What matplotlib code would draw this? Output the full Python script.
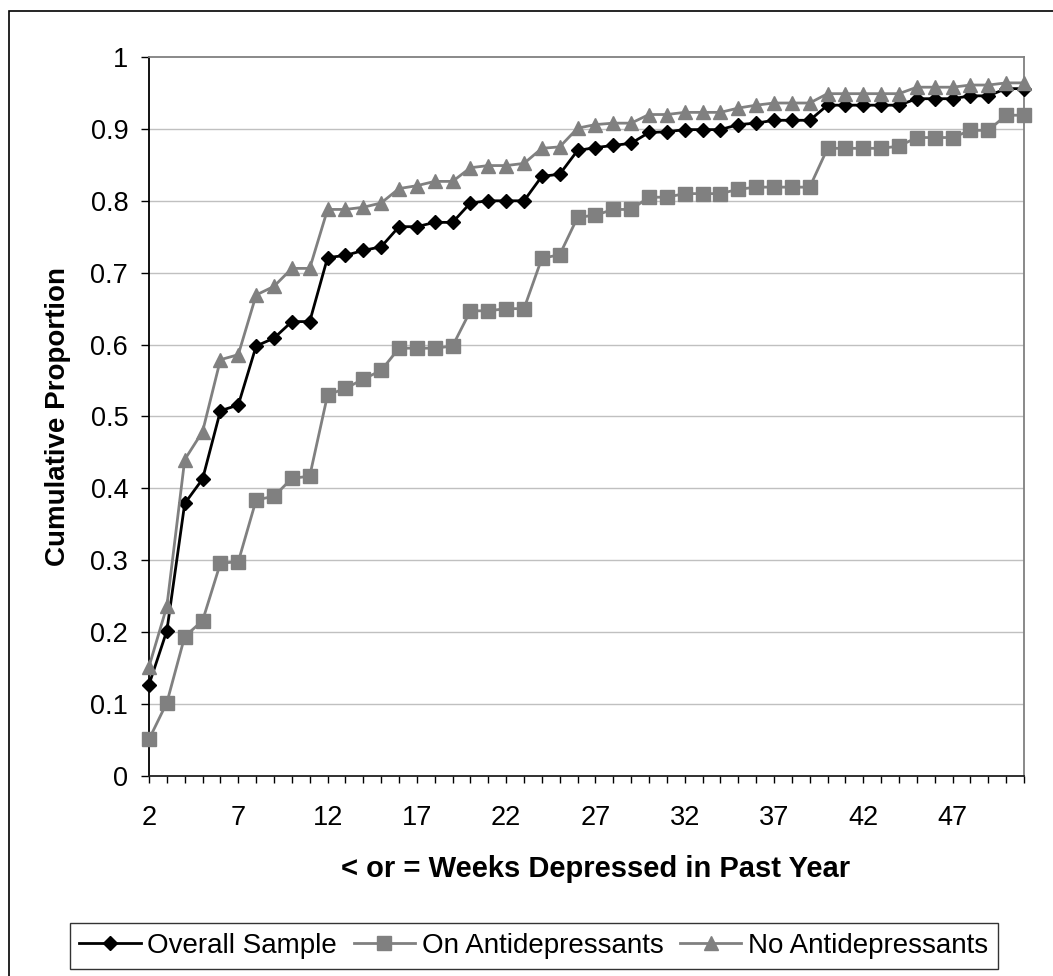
import matplotlib
matplotlib.use('Agg')
import matplotlib.pyplot as plt
from matplotlib.patches import Rectangle

plt.rcParams['font.family'] = ['Liberation Sans', 'DejaVu Sans']

# weeks depressed (category axis)
weeks = [2, 3, 4, 5, 6, 7, 8, 9, 10, 11, 12, 13, 14, 15, 16, 17, 18, 19, 20, 21,
         22, 23, 24, 25, 26, 27, 28, 29, 30, 31, 32, 33, 34, 35, 36, 37, 38, 39, 40, 41,
         42, 43, 44, 45, 46, 47, 48, 49, 50, 51]

overall = [0.127, 0.202, 0.379, 0.413, 0.508, 0.516, 0.598, 0.609, 0.632, 0.632,
           0.721, 0.724, 0.731, 0.736, 0.764, 0.764, 0.770, 0.770, 0.797, 0.800,
           0.800, 0.800, 0.834, 0.837, 0.870, 0.874, 0.877, 0.880, 0.895, 0.896,
           0.899, 0.899, 0.899, 0.906, 0.908, 0.912, 0.912, 0.912, 0.933, 0.933,
           0.933, 0.933, 0.933, 0.942, 0.942, 0.942, 0.946, 0.946, 0.956, 0.956]

on_ad = [0.051, 0.102, 0.194, 0.216, 0.296, 0.298, 0.384, 0.389, 0.414, 0.417,
         0.530, 0.539, 0.552, 0.564, 0.595, 0.595, 0.595, 0.598, 0.647, 0.647,
         0.650, 0.650, 0.720, 0.725, 0.777, 0.780, 0.788, 0.788, 0.805, 0.805,
         0.810, 0.810, 0.810, 0.816, 0.819, 0.819, 0.819, 0.819, 0.873, 0.873,
         0.873, 0.873, 0.876, 0.888, 0.888, 0.888, 0.898, 0.898, 0.919, 0.919]

no_ad = [0.152, 0.236, 0.440, 0.479, 0.579, 0.586, 0.669, 0.681, 0.706, 0.706,
         0.788, 0.788, 0.791, 0.797, 0.817, 0.821, 0.827, 0.827, 0.846, 0.849,
         0.849, 0.852, 0.873, 0.875, 0.901, 0.906, 0.908, 0.908, 0.920, 0.920,
         0.923, 0.923, 0.923, 0.929, 0.933, 0.936, 0.936, 0.936, 0.949, 0.949,
         0.949, 0.949, 0.949, 0.958, 0.958, 0.958, 0.961, 0.961, 0.964, 0.964]

labels = ['Overall Sample', 'On Antidepressants', 'No Antidepressants']
tick_weeks = [2, 7, 12, 17, 22, 27, 32, 37, 42, 47]
y_ticks = [0, 0.1, 0.2, 0.3, 0.4, 0.5, 0.6, 0.7, 0.8, 0.9, 1]

W, H = 1053, 976
fig = plt.figure(figsize=(W / 100, H / 100), dpi=100)
ax = fig.add_axes([149 / W, 1 - 776 / H, 875 / W, 719 / H])

# outer chart border, its right and bottom edges fall outside the picture
fig.patches.append(Rectangle((9 / W, -0.2), 1.2, 1.2 - 11 / H, transform=fig.transFigure,
                             fill=False, edgecolor='black', linewidth=1.2))

grey = '#808080'
ax.plot(weeks, overall, color='black', lw=2, marker='D', ms=7.6, mfc='black', mec='black',
        clip_on=False, zorder=3, label=labels[0])
ax.plot(weeks, on_ad, color=grey, lw=2, marker='s', ms=9.4, mfc=grey, mec=grey,
        clip_on=False, zorder=4, label=labels[1])
ax.plot(weeks, no_ad, color=grey, lw=2, marker='^', ms=10.5, mfc=grey, mec=grey,
        clip_on=False, zorder=5, label=labels[2])

ax.set_xlim(2, 51)
ax.set_ylim(0, 1)

ax.set_yticks(y_ticks)
ax.set_yticklabels(['0' if v == 0 else ('1' if v == 1 else '%g' % v) for v in y_ticks])
ax.set_xticks(weeks)
ax.set_xticklabels([str(w) if w in tick_weeks else '' for w in weeks])

ax.tick_params(axis='y', direction='out', length=6, width=1, labelsize=19.5, pad=9, colors='black')
ax.tick_params(axis='x', direction='out', length=5, width=1, labelsize=19.5, pad=16, colors='black')

for v in y_ticks[1:-1]:
    ax.axhline(v, color='#c0c0c0', lw=1, zorder=1)

ax.spines['left'].set_color('black')
ax.spines['bottom'].set_color('#202020')
ax.spines['top'].set_color(grey)
ax.spines['right'].set_color(grey)
for s in ax.spines.values():
    s.set_linewidth(1.3)

ax.set_xlabel('< or = Weeks Depressed in Past Year', fontsize=21, fontweight='bold')
ax.xaxis.set_label_coords(0.51, -0.13)
ax.xaxis.label.set_va('center')
ax.set_ylabel('Cumulative Proportion', fontsize=20, fontweight='bold')
ax.yaxis.set_label_coords(-0.104, 0.5)
ax.yaxis.label.set_va('center')

leg = fig.legend(loc='center', bbox_to_anchor=(534 / W, 1 - 946 / H), ncol=3, fontsize=20,
                 frameon=True, fancybox=False, edgecolor='black', handlelength=2.2,
                 handletextpad=0.25, columnspacing=0.6, borderpad=0.35, borderaxespad=0)
leg.get_frame().set_linewidth(1.0)

fig.savefig('out.png', dpi=100)
